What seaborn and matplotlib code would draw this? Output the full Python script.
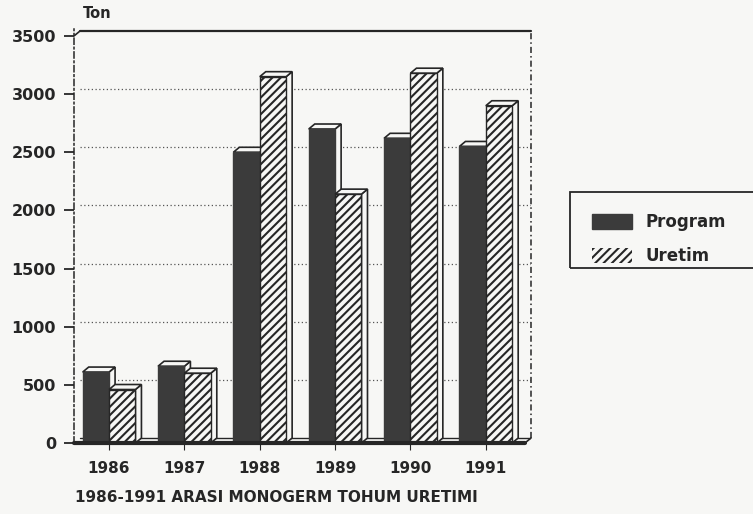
import numpy as np
import pandas as pd
import seaborn as sns
import matplotlib.pyplot as plt
from matplotlib.patches import Polygon, Patch, Rectangle

# values (front face of each bar)
years = ['1986', '1987', '1988', '1989', '1990', '1991']
program = [610, 660, 2500, 2700, 2620, 2550]
uretim = [460, 600, 3150, 2140, 3180, 2900]
series = ['Program', 'Uretim']
yticks = [0, 500, 1000, 1500, 2000, 2500, 3000, 3500]

df = pd.DataFrame({
    'Yil': years * 2,
    'Ton': program + uretim,
    'Seri': [series[0]] * len(years) + [series[1]] * len(years),
})

sns.set_style('white')
plt.rcParams['font.family'] = ['DejaVu Sans']
plt.rcParams['font.weight'] = 'bold'
plt.rcParams['hatch.linewidth'] = 1.5

bg = '#f7f7f5'
dark = '#3b3b3b'
ink = '#262626'

W, H = 753, 514
fig = plt.figure(figsize=(W / 100, H / 100), dpi=100, facecolor=bg)
# axes = front plane of the 3d chart
ax = fig.add_axes([74 / W, 1 - 443 / H, (531 - 74) / W, (443 - 29) / H])
ax.set_facecolor(bg)

sns.barplot(data=df, x='Yil', y='Ton', hue='Seri', palette=[dark, bg],
            width=0.7, saturation=1, ax=ax, legend=False, zorder=3)

xl, xr = -0.465, 5.6
ax.set_xlim(xl, xr)
ax.set_ylim(0, 3560)
dx, dy = 0.08, 43  # depth offset (about 6 px / 5 px)

for i, cont in enumerate(ax.containers):
    for bar in cont:
        x0, w, h = bar.get_x(), bar.get_width(), bar.get_height()
        z = 3 + 2 * i
        bar.set_zorder(z)
        bar.set_edgecolor(ink if i else dark)
        bar.set_linewidth(1.0)
        if i == 1:
            bar.set_hatch('////')
        top = Polygon([(x0, h), (x0 + w, h), (x0 + w + dx, h + dy), (x0 + dx, h + dy)],
                      closed=True, facecolor=bg, edgecolor=ink, lw=1.2, zorder=z - 0.5)
        side = Polygon([(x0 + w, 0), (x0 + w, h), (x0 + w + dx, h + dy), (x0 + w + dx, dy)],
                       closed=True, facecolor=bg, edgecolor=ink, lw=1.2, zorder=z - 0.5)
        ax.add_patch(side)
        ax.add_patch(top)

# back wall: grid, frame
for v in yticks[1:-1]:
    ax.plot([xl + dx, xr], [v + dy, v + dy], ls=(0, (1, 2)), color='#555555', lw=0.9, zorder=1)
ax.plot([xl + dx, xr], [3500 + dy, 3500 + dy], color=ink, lw=1.6, zorder=1, clip_on=False)
ax.plot([xl, xl + dx], [3500, 3500 + dy], color=ink, lw=1.2, zorder=1, clip_on=False)
ax.plot([xr, xr], [dy, 3500 + dy], ls=(0, (4, 2, 1, 2)), color=ink, lw=1.1, zorder=1,
        clip_on=False)

# floor
ax.plot([xl + dx, xr], [dy, dy], color=ink, lw=1.0, zorder=2)
ax.plot([xl, xr - dx], [0, 0], color=ink, lw=3.0, zorder=8, clip_on=False)
ax.plot([xr - dx, xr], [0, dy], color=ink, lw=1.2, zorder=2, clip_on=False)

for s in ['top', 'right', 'bottom']:
    ax.spines[s].set_visible(False)
ax.spines['left'].set_linestyle((0, (4, 2, 1, 2)))
ax.spines['left'].set_color(ink)
ax.spines['left'].set_linewidth(1.1)

ax.set_yticks(yticks)
ax.set_yticklabels([str(v) for v in yticks])
ax.tick_params(axis='y', left=True, length=7, width=1.3, color=ink, pad=6,
               labelsize=11.5, labelcolor=ink)
ax.tick_params(axis='x', bottom=True, length=5, width=0.8, color=ink, pad=8,
               labelsize=11, labelcolor=ink)
ax.set_xlabel('')
ax.set_ylabel('')

fig.text(83 / W, 1 - 13 / H, 'Ton', fontsize=10.5, fontweight='bold', color=ink,
         ha='left', va='center')
fig.text(276 / W, 1 - 497 / H, '1986-1991 ARASI MONOGERM TOHUM URETIMI', fontsize=11,
         fontweight='bold', color=ink, ha='center', va='center')

# legend
fig.patches.append(Rectangle((570 / W, 1 - 268 / H), 200 / W, 76 / H, transform=fig.transFigure,
                             facecolor='none', edgecolor=ink, lw=1.3))
handles = [Patch(facecolor=dark, edgecolor=dark, label=series[0]),
           Patch(facecolor=bg, edgecolor=ink, lw=0, hatch='////', label=series[1])]
fig.legend(handles=handles, loc='upper left', bbox_to_anchor=(584 / W, 1 - 205 / H),
           frameon=False, fontsize=12, handlelength=2.4, handleheight=1.05,
           handletextpad=0.8, labelspacing=0.95, borderpad=0, labelcolor=ink)

fig.savefig('out.png', dpi=100, facecolor=bg)
